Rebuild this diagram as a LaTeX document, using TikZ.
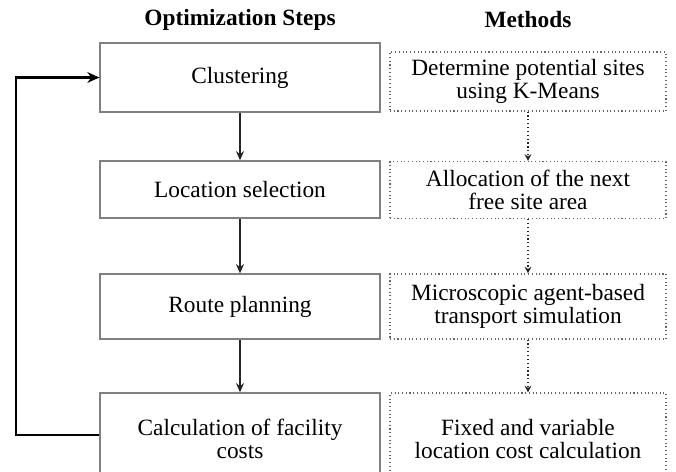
\documentclass[tikz,border=0pt]{standalone}
\usepackage{fontspec}
\setmainfont{Liberation Serif}
\usetikzlibrary{arrows.meta}

\begin{document}
\begin{tikzpicture}[x=0.75pt,y=-0.75pt,
  head/.style={font=\fontsize{17.5}{19}\selectfont\bfseries},
  stepbox/.style={draw=black!50, line width=0.9pt, minimum width=210pt, inner sep=0pt, align=center, font=\fontsize{17.5}{17.5}\selectfont},
  methodbox/.style={draw=black!60, dotted, line width=0.8pt, minimum width=207pt, inner sep=0pt, align=center, font=\fontsize{17.5}{17.5}\selectfont},
  flow/.style={draw=black!85, line width=1pt, -{Stealth[length=7pt,width=6pt]}},
  dflow/.style={draw=black!85, line width=0.9pt, dotted, -{Stealth[length=5pt,width=5pt]}},
  back/.style={draw=black, line width=1.6pt, -{Stealth[length=9pt,width=8pt]}}]

% page size (the last box runs off the bottom)
\clip (0,0) rectangle (676,472);

% Column headings
\node[head] (hsteps) at (240,20) {Optimization Steps};
\node[head] (hmeth) at (528,20) {Methods};

% Optimization steps
\node[stepbox, minimum height=51.75pt] (clust) at (240,77.5) {Clustering};
\node[stepbox, minimum height=42.75pt] (locsel) at (240,189.5) {Location selection};
\node[stepbox, minimum height=48.75pt] (route) at (240,306.5) {Route planning};
\node[stepbox, minimum height=69pt] (cost) at (240,439) {Calculation of facility\\costs};

% Methods
\node[methodbox, minimum height=44.25pt] (kmeans) at (528,81.5) {Determine potential sites\\using K-Means};
\node[methodbox, minimum height=42.75pt] (alloc) at (528,190) {Allocation of the next\\free site area};
\node[methodbox, minimum height=48.75pt] (sim) at (528,306.5) {Microscopic agent-based\\transport simulation};
\node[methodbox, minimum height=69pt] (loccost) at (528,439) {Fixed and variable\\location cost calculation};

% Arrows between the steps
\draw[flow] (clust) -- (locsel);
\draw[flow] (locsel) -- (route);
\draw[flow] (route) -- (cost);

% Arrows between the methods
\draw[dflow] (kmeans) -- (alloc);
\draw[dflow] (alloc) -- (sim);
\draw[dflow] (sim) -- (loccost);

% Loop back to the clustering
\draw[back] ([yshift=3pt]cost.west) -- ++(-83,0) |- (clust.west);
\end{tikzpicture}
\end{document}
